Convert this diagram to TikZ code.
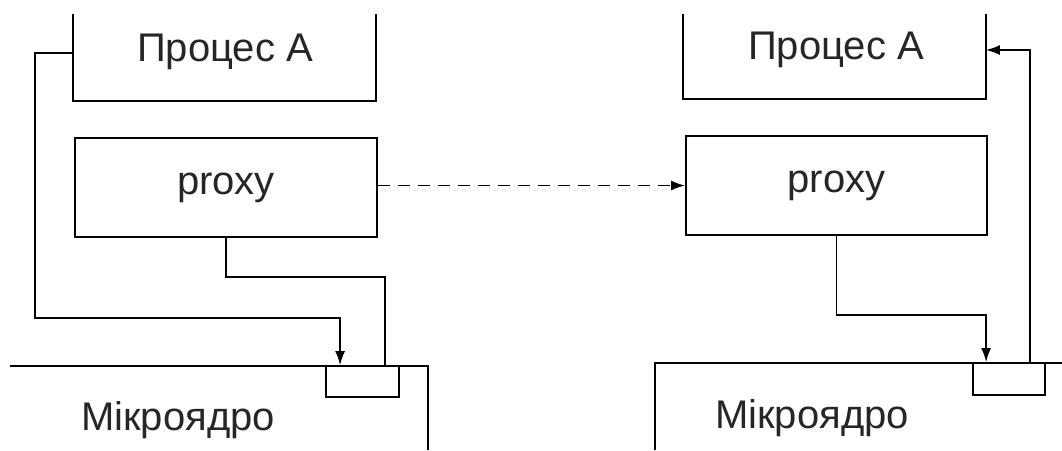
\documentclass[tikz,border=0pt]{standalone}
\usepackage{fontspec}
\setmainfont{Liberation Sans}
\usetikzlibrary{arrows.meta}
\begin{document}
\begin{tikzpicture}[x=1pt,y=-1pt,
  line width=1.8pt,
  lbl/.style={inner sep=0pt,font=\fontsize{40}{44}\selectfont,text=black!85},
  frame/.style={inner sep=0pt,draw=none},
  boxed/.style={inner sep=0pt,draw,font=\fontsize{40}{44}\selectfont,text=black!85},
  arr/.style={-{Latex[length=14pt,width=10pt]}}]
\useasboundingbox (0,0) rectangle (1062,450);
% ---------- left ----------
\node[frame,minimum width=301pt,minimum height=85pt] (pA1) at (224.5,57.5) {};
\draw (pA1.north west) -- (pA1.south west) -- (pA1.south east) -- (pA1.north east);
\node[lbl] (tA1) at (225,52) {Процес А};
\node[boxed,minimum width=302pt,minimum height=99pt] (proxy1) at (226,187.5) {proxy};
\node[frame,draw,minimum width=73pt,minimum height=31pt] (port1) at (362.5,381.5) {};
\coordinate (k1a) at (10,366);
\coordinate (k1b) at (428,366);
\coordinate (k1c) at (428,450);
\draw (k1a) -- (k1b) -- (k1c);
\node[lbl] (mk1) at (178,420) {Мікроядро};
\draw[arr] ([yshift=4.5pt]pA1.west) -| (35,318) -| ([xshift=15pt]port1.north west);
\draw (proxy1.south) -- ++(0,39) -| ([xshift=60pt]port1.north west);
% ---------- right ----------
\node[frame,minimum width=301pt,minimum height=83pt] (pA2) at (834.5,56.5) {};
\draw (pA2.north west) -- (pA2.south west) -- (pA2.south east) -- (pA2.north east);
\node[lbl] (tA2) at (836,50) {Процес А};
\node[boxed,minimum width=301pt,minimum height=99pt] (proxy2) at (836.5,185.5) {proxy};
\node[frame,draw,minimum width=72pt,minimum height=32pt] (port2) at (1009,379) {};
\coordinate (k2a) at (1062,363);
\coordinate (k2b) at (655,363);
\coordinate (k2c) at (655,450);
\draw (k2a) -- (k2b) -- (k2c);
\node[lbl] (mk2) at (812,418) {Мікроядро};
\draw[arr] (proxy2.south) -- ++(0,79) -| ([xshift=14pt]port2.north west);
\draw[arr] ([xshift=58pt]port2.north west) |- ([yshift=6.5pt]pA2.east);
% ---------- dashed ----------
\draw[arr,dashed,dash pattern=on 12pt off 8pt] ([yshift=2pt]proxy1.east) -- ([yshift=2pt]proxy1.east -| proxy2.west);
\end{tikzpicture}
\end{document}
